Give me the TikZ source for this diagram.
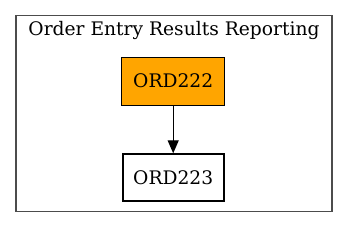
\documentclass[tikz,border=0pt]{standalone}
\usepackage{fontspec}
\setmainfont{DejaVu Serif}
\usetikzlibrary{arrows.meta}
\begin{document}
\begin{tikzpicture}[x=1pt,y=1pt,
  every node/.style={font=\fontsize{18.67}{22}\selectfont, inner sep=0pt},
  nodebox/.style={draw=black, rectangle, minimum width=102.6pt, minimum height=47.7pt, line width=1pt},
  boldbox/.style={draw=black, rectangle, minimum width=101.3pt, minimum height=46.4pt, line width=2pt, fill=white},
  cluster/.style={draw=black!70, line width=1.3pt},
  edge/.style={line width=1.3pt, -{Triangle[length=13pt,width=11pt]}}]
\useasboundingbox (0,0) rectangle (348,228);
\draw[cluster] (16,16.3) rectangle (332,212.5);
\node[anchor=base] (title) at (174,192) {Order Entry Results Reporting};
\node[nodebox, fill={rgb,255:red,255;green,165;blue,0}] (a) at (173.2,146.8) {ORD222};
\node[boldbox] (b) at (173.2,50.5) {ORD223};
\draw[edge] (a) -- (b);
\end{tikzpicture}
\end{document}
